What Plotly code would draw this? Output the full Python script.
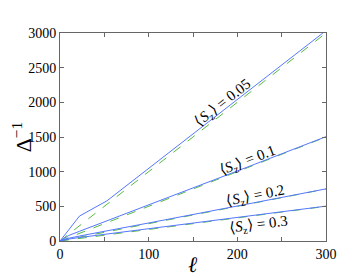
import plotly.graph_objects as go

# data
ell = [0, 10, 22, 53, 100, 200, 300]
blue_005 = [0, 170, 360, 580, 1045, 2040, 3035]
blue_01 = [0, 80, 140, 290, 520, 1010, 1505]
blue_02 = [0, 40, 72, 150, 260, 505, 752]
blue_03 = [0, 28, 50, 100, 172, 338, 503]

ell_th = [0, 300]
green_005 = [0, 3000]
green_01 = [0, 1500]
green_02 = [0, 750]
green_03 = [0, 500]

labels = ["0.05", "0.1", "0.2", "0.3"]
label_x = [184, 211, 221, 224]
label_y = [1990, 1160, 655, 228]
label_angle = [-38, -21, -11, -7]

BLUE = "#5577ff"
GREEN = "#55bb44"
SERIF = "Times New Roman, Liberation Serif, serif"

fig = go.Figure()
for g in [green_005, green_01, green_02, green_03]:
    fig.add_trace(go.Scatter(x=ell_th, y=g, mode="lines",
                             line=dict(color=GREEN, width=1, dash="dash"),
                             showlegend=False, hoverinfo="skip"))
for b in [blue_005, blue_01, blue_02, blue_03]:
    fig.add_trace(go.Scatter(x=ell, y=b, mode="lines",
                             line=dict(color=BLUE, width=1),
                             showlegend=False, hoverinfo="skip"))

for lab, lx, ly, ang in zip(labels, label_x, label_y, label_angle):
    fig.add_annotation(x=lx, y=ly, text="⟨<i>S</i><sub>z</sub>⟩ = " + lab,
                       showarrow=False, textangle=ang,
                       font=dict(family=SERIF, size=15, color="black"))

# x-axis title placed close to tick labels, as in the reference
fig.add_annotation(x=0.5, y=-0.115, xref="paper", yref="paper", text="<i>ℓ</i>",
                   showarrow=False, yanchor="middle",
                   font=dict(family=SERIF, size=22, color="black"))

axis_common = dict(showgrid=False, zeroline=False, showline=True, linecolor="#666",
                   linewidth=1, mirror="allticks", ticks="inside", ticklen=4,
                   tickcolor="#666",
                   tickfont=dict(family=SERIF, size=14, color="black"))

fig.update_xaxes(range=[0, 300], tick0=0, dtick=100,
                 minor=dict(dtick=50, ticks="inside", ticklen=4, tickcolor="#666", showgrid=False),
                 **axis_common)
fig.update_yaxes(range=[0, 3000], tick0=0, dtick=500,
                 title=dict(text="Δ<sup>−1</sup>", font=dict(family=SERIF, size=22, color="black"),
                            standoff=6),
                 **axis_common)

fig.update_layout(width=360, height=278, margin=dict(l=52, r=42, t=25, b=45, autoexpand=False),
                  font=dict(family=SERIF),
                  plot_bgcolor="white", paper_bgcolor="white")

fig.write_html("out.html")
